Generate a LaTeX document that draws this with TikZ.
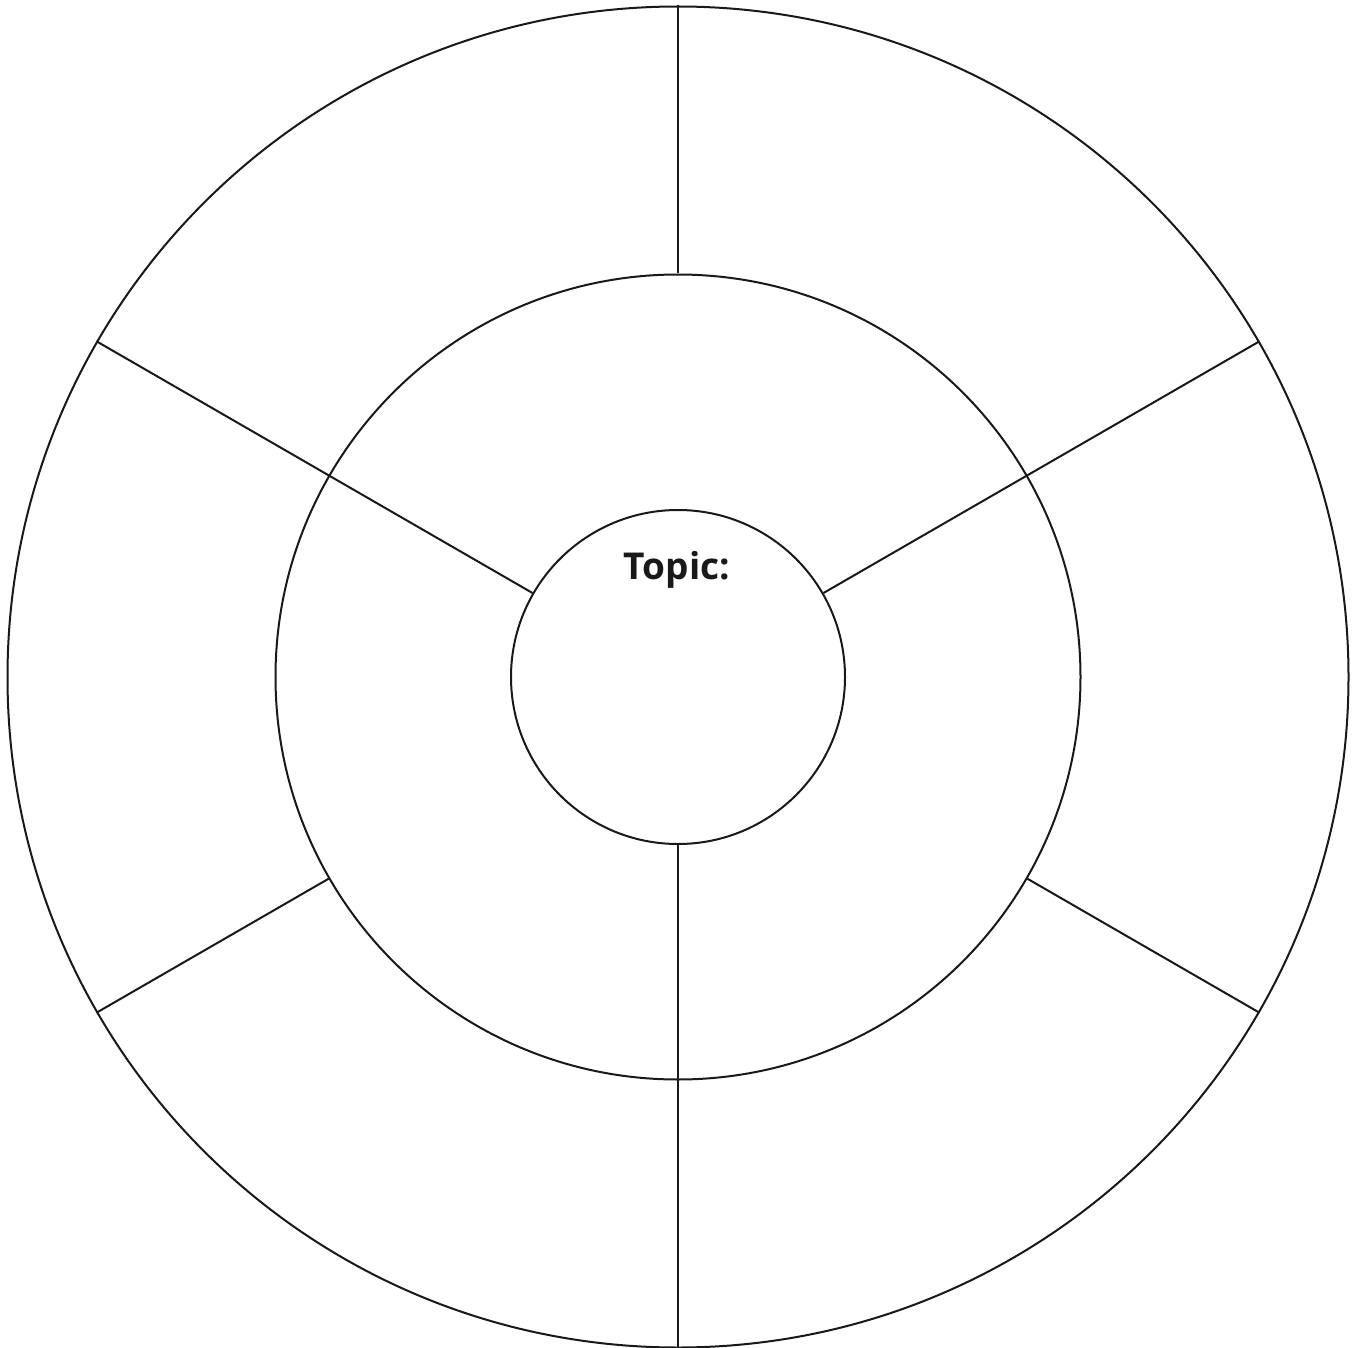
\documentclass[tikz,border=0pt]{standalone}
\usepackage{fontspec}
\setmainfont{Open Sans}
\begin{document}
\begin{tikzpicture}[x=1pt,y=-1pt,
  ring/.style={draw=black!90,line width=2pt},
  spoke/.style={draw=black!90,line width=2pt}]
\useasboundingbox (0,0) rectangle (1355,1348);
\coordinate (c) at (678,677);
\node[ring,circle,minimum size=1341pt,inner sep=0pt] (outer) at (c) {};
\node[ring,circle,minimum size=805pt,inner sep=0pt] (middle) at (c) {};
\node[ring,circle,minimum size=334pt,inner sep=0pt] (inner) at (c) {};
\draw[spoke] (outer.90) -- (middle.90);
\draw[spoke] (outer.150) -- (inner.150);
\draw[spoke] (outer.30) -- (inner.30);
\draw[spoke] (outer.270) -- (inner.270);
\draw[spoke] (outer.210) -- (middle.210);
\draw[spoke] (outer.330) -- (middle.330);
\node[font=\fontsize{37}{44}\selectfont\bfseries,text=black!90] (topic) at (677,570) {Topic:};
\end{tikzpicture}
\end{document}
